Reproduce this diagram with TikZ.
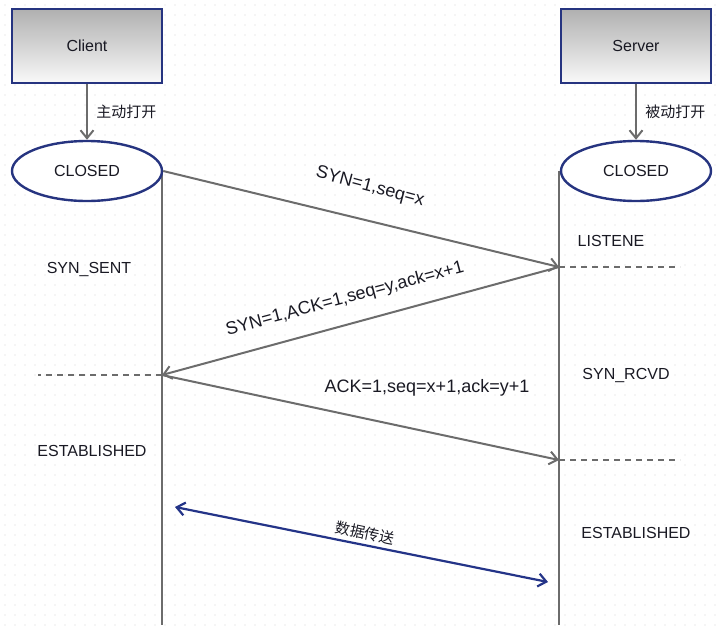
\documentclass[tikz,border=0pt]{standalone}
\usepackage{fontspec}
\setmainfont{Liberation Sans}
\newfontfamily\cjk{Noto Sans CJK SC}
\usetikzlibrary{arrows.meta,shapes.geometric}
\definecolor{boxblue}{RGB}{38,52,128}
\definecolor{linegray}{RGB}{108,108,108}
\definecolor{dotgray}{RGB}{212,212,212}
\definecolor{datablue}{RGB}{36,52,136}
\definecolor{txt}{RGB}{25,25,35}

\begin{document}
\begin{tikzpicture}[
    x=1pt, y=-1pt,
    font=\fontsize{16}{19}\selectfont, text=txt,
    host/.style={rectangle, draw=boxblue, line width=2.4pt, minimum width=150pt, minimum height=74pt, top color=gray!62, bottom color=gray!5},
    state/.style={ellipse, draw=boxblue, line width=2.4pt, fill=white, minimum width=150pt, minimum height=60pt},
    life/.style={draw=linegray, line width=2pt},
    msg/.style={draw=linegray, line width=2pt, -{Straight Barb[length=8pt,width=13pt]}},
    guide/.style={draw=linegray, line width=1.5pt, dash pattern=on 6pt off 5pt},
    data/.style={draw=datablue, line width=2.2pt, {Straight Barb[length=8pt,width=13pt]}-{Straight Barb[length=8pt,width=13pt]}},
    msglabel/.style={font=\fontsize{18}{21}\selectfont},
    cjklabel/.style={font=\cjk\fontsize{15}{18}\selectfont}
]
\useasboundingbox (0,0) rectangle (721,630);

% Background dots
\foreach \i in {0,...,71}
  \foreach \j in {0,...,62}
    \fill[dotgray] (\i*10+5,\j*10+5) circle (0.7pt);

% Define lifeline points
\coordinate (ctop) at (162,171);
\coordinate (cbot) at (162,625);
\coordinate (stop) at (559,171);
\coordinate (sbot) at (559,625);
\coordinate (s1) at (559,267);
\coordinate (c2) at (162,375);
\coordinate (s2) at (559,460);
\coordinate (s1end) at (680,267);
\coordinate (c2end) at (38,375);
\coordinate (s2end) at (680,460);
\coordinate (d1) at (175,507);
\coordinate (d2) at (548,582);

% Lifelines
\draw[life] (ctop) -- (cbot);
\draw[life] (stop) -- (sbot);

% Define hosts and states
\node[host] (client) at (87,46) {Client};
\node[host] (server) at (636,46) {Server};
\node[state] (cclosed) at (87,171) {CLOSED};
\node[state] (sclosed) at (636,171) {CLOSED};

\draw[msg] (client) -- (cclosed) node[midway, right=5pt, cjklabel] {主动打开};
\draw[msg] (server) -- (sclosed) node[midway, right=5pt, cjklabel] {被动打开};

% Handshake
\draw[msg] (cclosed.east) -- (s1);
\draw[msg] (s1) -- (c2);
\draw[msg] (c2) -- (s2);
\draw[guide] (s1) -- (s1end);
\draw[guide] (c2) -- (c2end);
\draw[guide] (s2) -- (s2end);

\node[msglabel, rotate=-15] (l1) at (370,187) {SYN=1,seq=x};
\node[msglabel, rotate=15] (l2) at (345,299) {SYN=1,ACK=1,seq=y,ack=x+1};
\node[msglabel] (l3) at (427,388) {ACK=1,seq=x+1,ack=y+1};

% States
\node (synsent) at (89,269) {SYN\_SENT};
\node (listen) at (611,241) {LISTENE};
\node (synrcvd) at (626,375) {SYN\_RCVD};
\node (cest) at (92,451) {ESTABLISHED};
\node (sest) at (636,533) {ESTABLISHED};

% Data transfer
\draw[data] (d1) -- (d2);
\node[cjklabel, rotate=-12] (dlabel) at (365,533) {数据传送};

\end{tikzpicture}
\end{document}
